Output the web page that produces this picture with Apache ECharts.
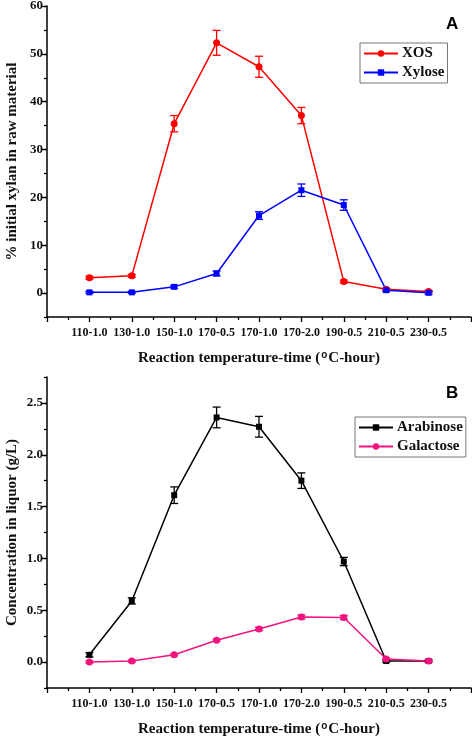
<!DOCTYPE html>
<html>
<head>
<meta charset="utf-8">
<script src="https://cdn.jsdelivr.net/npm/echarts@6/dist/echarts.min.js"></script>
<style>html,body{margin:0;padding:0;background:#fff;}#c{width:472px;height:738px;}</style>
</head>
<body>
<div id="c"></div>
<script>
const categories = ['110-1.0','130-1.0','150-1.0','170-0.5','170-1.0','170-2.0','190-0.5','210-0.5','230-0.5'];
const xos = [3.2, 3.6, 35.4, 52.3, 47.3, 37.1, 2.4, 0.8, 0.35];
const xosErr = [0.3, 0.3, 1.7, 2.6, 2.2, 1.7, 0.3, 0.2, 0.2];
const xylose = [0.15, 0.15, 1.3, 4.1, 16.2, 21.5, 18.4, 0.6, 0.05];
const xyloseErr = [0.2, 0.2, 0.3, 0.5, 0.8, 1.3, 1.1, 0.3, 0.3];
const arabinose = [0.07, 0.59, 1.61, 2.36, 2.27, 1.75, 0.97, 0.01, 0.01];
const arabinoseErr = [0.02, 0.03, 0.08, 0.10, 0.10, 0.075, 0.04, 0.01, 0.01];
const galactose = [0.0, 0.01, 0.07, 0.21, 0.32, 0.435, 0.43, 0.03, 0.01];
const galactoseErr = [0.01, 0.01, 0.01, 0.01, 0.015, 0.02, 0.02, 0.01, 0.01];
const yTicksA = [0, 10, 20, 30, 40, 50, 60];
const yTicksB = [0, 0.5, 1.0, 1.5, 2.0, 2.5];

const SERIF = 'Liberation Serif';
const colXOS = '#ff0000', colXyl = '#0000ff', colAra = '#000000', colGal = '#f0147f';

function pts(arr) { return arr.map((v, i) => [i + 1, v]); }
function errPts(arr, err) { return arr.map((v, i) => [i + 1, v - err[i], v + err[i]]); }
function errSeries(arr, err, color, xi, yi) {
  return {
    type: 'custom', xAxisIndex: xi, yAxisIndex: yi, z: 3, silent: true,
    data: errPts(arr, err),
    renderItem: function (params, api) {
      const x = api.value(0);
      const lo = api.coord([x, api.value(1)]);
      const hi = api.coord([x, api.value(2)]);
      const w = 4;
      const st = { stroke: color, lineWidth: 1.3 };
      return {
        type: 'group', children: [
          { type: 'line', shape: { x1: lo[0], y1: lo[1], x2: hi[0], y2: hi[1] }, style: st },
          { type: 'line', shape: { x1: lo[0] - w, y1: lo[1], x2: lo[0] + w, y2: lo[1] }, style: st },
          { type: 'line', shape: { x1: hi[0] - w, y1: hi[1], x2: hi[0] + w, y2: hi[1] }, style: st }
        ]
      };
    }
  };
}
function lineSeries(name, arr, color, symbol, size, xi, yi) {
  return {
    name: name, type: 'line', xAxisIndex: xi, yAxisIndex: yi, z: 4,
    data: pts(arr), symbol: symbol, symbolSize: size,
    lineStyle: { color: color, width: 1.5 },
    itemStyle: { color: color },
    animation: false
  };
}
const labelStyle = { fontFamily: SERIF, fontWeight: 'bold', fontSize: 12, color: '#111' };
function xAxis(gi) {
  return {
    type: 'value', gridIndex: gi, min: 0, max: 10, interval: 1,
    axisLine: { show: true, onZero: false, lineStyle: { color: '#000', width: 1.5 } },
    axisTick: { show: true, inside: false, length: 5, lineStyle: { color: '#000', width: 1.3 } },
    minorTick: { show: true, splitNumber: 2, length: 3, lineStyle: { color: '#000', width: 1.3 } },
    splitLine: { show: false }, minorSplitLine: { show: false },
    axisLabel: Object.assign({ margin: 10, formatter: v => categories[v - 1] || '' }, labelStyle),
    name: '{n|Reaction temperature-time (}{s|o}{n|C-hour)}',
    nameLocation: 'middle', nameGap: 33, nameMoveOverlap: false,
    nameTextStyle: {
      rich: {
        n: { fontFamily: SERIF, fontWeight: 'bold', fontSize: 15, color: '#111' },
        s: { fontFamily: 'Liberation Sans', fontWeight: 'bold', fontSize: 10, color: '#111', verticalAlign: 'top', padding: [0, 1, 7, 1] }
      }
    }
  };
}
function yMain(gi, min, max, ticks, fmt, name) {
  return {
    type: 'value', gridIndex: gi, min: min, max: max, position: 'left',
    axisLine: { show: true, onZero: false, lineStyle: { color: '#000', width: 1.5 } },
    axisTick: { show: true, length: 5, customValues: ticks, lineStyle: { color: '#000', width: 1.3 } },
    splitLine: { show: false },
    axisLabel: Object.assign({}, labelStyle, { fontSize: 13, margin: 4, customValues: ticks, formatter: fmt }),
    name: name, nameLocation: 'middle', nameGap: 27, nameMoveOverlap: false,
    nameTextStyle: { fontFamily: SERIF, fontWeight: 'bold', fontSize: 15, color: '#111' }
  };
}
function yMinor(gi, min, max, interval) {
  return {
    type: 'value', gridIndex: gi, min: min, max: max, interval: interval, position: 'left',
    axisLine: { show: false, onZero: false }, axisLabel: { show: false }, splitLine: { show: false },
    axisTick: { show: true, length: 3, lineStyle: { color: '#000', width: 1.3 } }
  };
}
const legendBase = {
  orient: 'vertical', borderColor: '#777', borderWidth: 1, backgroundColor: '#fff',
  itemWidth: 34, itemHeight: 8, itemGap: 4, padding: [3, 3, 3, 3],
  textStyle: { fontFamily: SERIF, fontWeight: 'bold', fontSize: 15, color: '#111', padding: [0, 0, 0, -1] }
};

const chart = echarts.init(document.getElementById('c'), null, { renderer: 'canvas' });
chart.setOption({
  animation: false,
  backgroundColor: '#fff',
  grid: [
    { left: 47, top: 6, width: 424, height: 311, containLabel: false, outerBoundsMode: 'none' },
    { left: 47, top: 377, width: 424, height: 311, containLabel: false, outerBoundsMode: 'none' }
  ],
  xAxis: [xAxis(0), xAxis(1)],
  yAxis: [
    yMain(0, -5, 60, yTicksA, v => String(v), '% initial xylan in raw material'),
    yMinor(0, -5, 60, 5),
    yMain(1, -0.25, 2.75, yTicksB, v => v.toFixed(1), 'Concentration in liquor (g/L)'),
    yMinor(1, -0.25, 2.75, 0.25)
  ],
  legend: [
    Object.assign({}, legendBase, { data: ['XOS', 'Xylose'], left: 360, top: 43 }),
    Object.assign({}, legendBase, { data: ['Arabinose', 'Galactose'], left: 355, top: 417 })
  ],
  graphic: [
    { type: 'text', left: 446, top: 16, style: { text: 'A', fontFamily: 'Liberation Sans', fontWeight: 'bold', fontSize: 17, fill: '#000' } },
    { type: 'text', left: 446, top: 385, style: { text: 'B', fontFamily: 'Liberation Sans', fontWeight: 'bold', fontSize: 17, fill: '#000' } }
  ],
  series: [
    errSeries(xos, xosErr, colXOS, 0, 0),
    lineSeries('XOS', xos, colXOS, 'circle', 7, 0, 0),
    errSeries(xylose, xyloseErr, colXyl, 0, 0),
    lineSeries('Xylose', xylose, colXyl, 'rect', 6, 0, 0),
    errSeries(arabinose, arabinoseErr, colAra, 1, 2),
    lineSeries('Arabinose', arabinose, colAra, 'rect', 6, 1, 2),
    errSeries(galactose, galactoseErr, colGal, 1, 2),
    lineSeries('Galactose', galactose, colGal, 'circle', 7, 1, 2)
  ]
});
</script>
</body>
</html>
